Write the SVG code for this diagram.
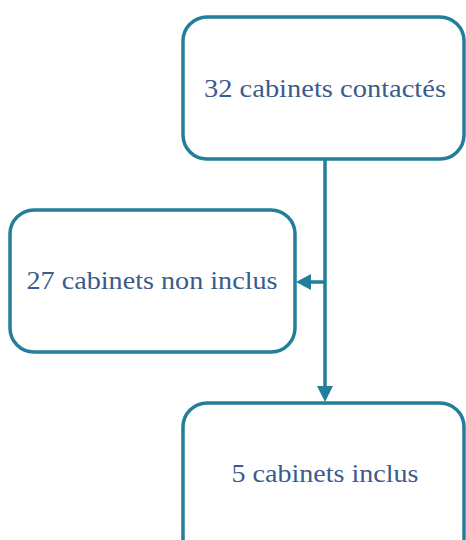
<svg xmlns="http://www.w3.org/2000/svg" width="466" height="540" viewBox="0 0 466 540">
<style>
.box{fill:#fff;stroke:#237E9A;stroke-width:3.5}
.lbl{font-family:"Liberation Serif","DejaVu Serif",serif;font-size:26px;fill:#3B5B8C;text-anchor:middle}
.con{stroke:#237E9A;stroke-width:3.5;fill:none}
</style>
<g id="connectors">
<line class="con" x1="325" y1="159" x2="325" y2="388"/>
<path d="M317,386 L325,402 L333,386 z" fill="#237E9A"/>
<line class="con" x1="325" y1="282" x2="308" y2="282"/>
<path d="M311,274 L296,282 L311,290 z" fill="#237E9A"/>
</g>
<g id="n1">
<rect class="box" x="183" y="17" width="281" height="142" rx="24"/>
<text class="lbl" x="325" y="97" textLength="242" lengthAdjust="spacingAndGlyphs">32 cabinets contactés</text>
</g>
<g id="n2">
<rect class="box" x="10" y="210" width="285" height="142" rx="24"/>
<text class="lbl" x="152" y="289" textLength="251" lengthAdjust="spacingAndGlyphs">27 cabinets non inclus</text>
</g>
<g id="n3">
<rect class="box" x="183" y="403" width="281" height="160" rx="24"/>
<text class="lbl" x="325" y="482" textLength="187" lengthAdjust="spacingAndGlyphs">5 cabinets inclus</text>
</g>
</svg>
